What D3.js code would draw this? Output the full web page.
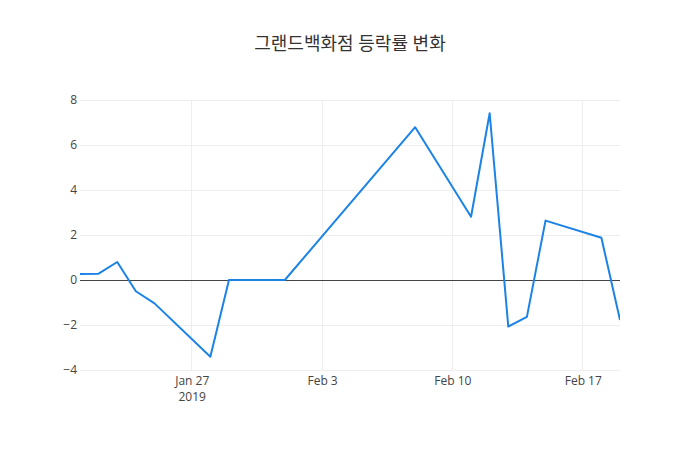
<!DOCTYPE html>
<html>
<head>
<meta charset="utf-8">
<script src="https://cdn.jsdelivr.net/npm/d3@7"></script>
<style>
  body { margin: 0; background: #fff; }
  text { font-family: "Open Sans", "Noto Sans CJK KR", sans-serif; }
</style>
</head>
<body>
<div id="chart"></div>
<script>
// Data
const dates = ["2019-01-21", "2019-01-22", "2019-01-23", "2019-01-24", "2019-01-25",
               "2019-01-28", "2019-01-29", "2019-02-01", "2019-02-08", "2019-02-11",
               "2019-02-12", "2019-02-13", "2019-02-14", "2019-02-15", "2019-02-18",
               "2019-02-19"];
const changes = [0.27, 0.28, 0.8, -0.5, -1.04, -3.41, 0, 0, 6.79, 2.81,
                 7.41, -2.07, -1.64, 2.64, 1.88, -1.78];
const yTicks = [-4, -2, 0, 2, 4, 6, 8];
const xTicks = ["2019-01-27", "2019-02-03", "2019-02-10", "2019-02-17"];
const chartTitle = "그랜드백화점 등락률 변화";

function drawChart() {
    const width = 700, height = 450;
    const margin = { top: 100, right: 80, bottom: 80, left: 80 };
    const parse = d3.timeParse("%Y-%m-%d");

    const data = dates.map((d, i) => ({ date: parse(d), value: changes[i] }));

    const svg = d3.select("#chart").append("svg")
        .attr("width", width)
        .attr("height", height);

    const x = d3.scaleTime()
        .domain(d3.extent(data, d => d.date))
        .range([margin.left, width - margin.right]);

    const y = d3.scaleLinear()
        .domain([-4, 8])
        .range([height - margin.bottom, margin.top]);

    // Grid lines
    svg.append("g")
        .selectAll("line.hgrid")
        .data(yTicks.filter(t => t !== 0))
        .enter().append("line")
        .attr("x1", margin.left)
        .attr("x2", width - margin.right)
        .attr("y1", d => y(d))
        .attr("y2", d => y(d))
        .style("stroke", "#eee")
        .style("shape-rendering", "crispEdges");

    svg.append("g")
        .selectAll("line.vgrid")
        .data(xTicks.map(parse))
        .enter().append("line")
        .attr("x1", d => x(d))
        .attr("x2", d => x(d))
        .attr("y1", margin.top)
        .attr("y2", height - margin.bottom)
        .style("stroke", "#eee")
        .style("shape-rendering", "crispEdges");

    // Zero line
    svg.append("line")
        .attr("x1", margin.left)
        .attr("x2", width - margin.right)
        .attr("y1", y(0) + 0.5)
        .attr("y2", y(0) + 0.5)
        .style("stroke", "#444")
        .style("shape-rendering", "crispEdges");

    // Y axis labels
    const yAxis = d3.axisLeft(y)
        .tickValues(yTicks)
        .tickSize(0)
        .tickPadding(0)
        .tickFormat(d => d < 0 ? "\u2212" + Math.abs(d) : d);

    const yg = svg.append("g")
        .attr("transform", `translate(${margin.left - 3},0)`)
        .call(yAxis);
    yg.select(".domain").remove();
    yg.selectAll("text")
        .style("font-size", "12px")
        .style("fill", "#444");

    // X axis labels
    const fmt = d3.timeFormat("%b %-d");
    const xAxis = d3.axisBottom(x)
        .tickValues(xTicks.map(parse))
        .tickSize(0)
        .tickPadding(0)
        .tickFormat(fmt);

    const xg = svg.append("g")
        .attr("transform", `translate(0,${height - margin.bottom + 3})`)
        .call(xAxis);
    xg.select(".domain").remove();
    xg.selectAll("text")
        .attr("dy", "1em")
        .style("font-size", "12px")
        .style("fill", "#444");

    // Year under the first tick, as a second line of the same label
    xg.selectAll(".tick").filter((d, i) => i === 0)
        .select("text")
        .text(null)
        .call(t => {
            const d = t.datum();
            t.append("tspan").attr("x", 0).text(fmt(d));
            t.append("tspan").attr("x", 0).attr("dy", "1.3em").text(d.getFullYear());
        });

    // Line
    const line = d3.line()
        .x(d => x(d.date))
        .y(d => y(d.value));

    svg.append("defs").append("clipPath")
        .attr("id", "plotclip")
        .append("rect")
        .attr("x", margin.left)
        .attr("y", margin.top - 5)
        .attr("width", width - margin.left - margin.right)
        .attr("height", height - margin.top - margin.bottom + 10);

    svg.append("path")
        .datum(data)
        .attr("clip-path", "url(#plotclip)")
        .attr("d", line)
        .style("fill", "none")
        .style("stroke", "#1c83e6")
        .style("stroke-width", 2)
        .style("stroke-linejoin", "round");

    // Title
    svg.append("text")
        .attr("x", width / 2)
        .attr("y", 50)
        .attr("text-anchor", "middle")
        .style("font-size", "18px")
        .style("fill", "#333")
        .text(chartTitle);
}

drawChart();
</script>
</body>
</html>
